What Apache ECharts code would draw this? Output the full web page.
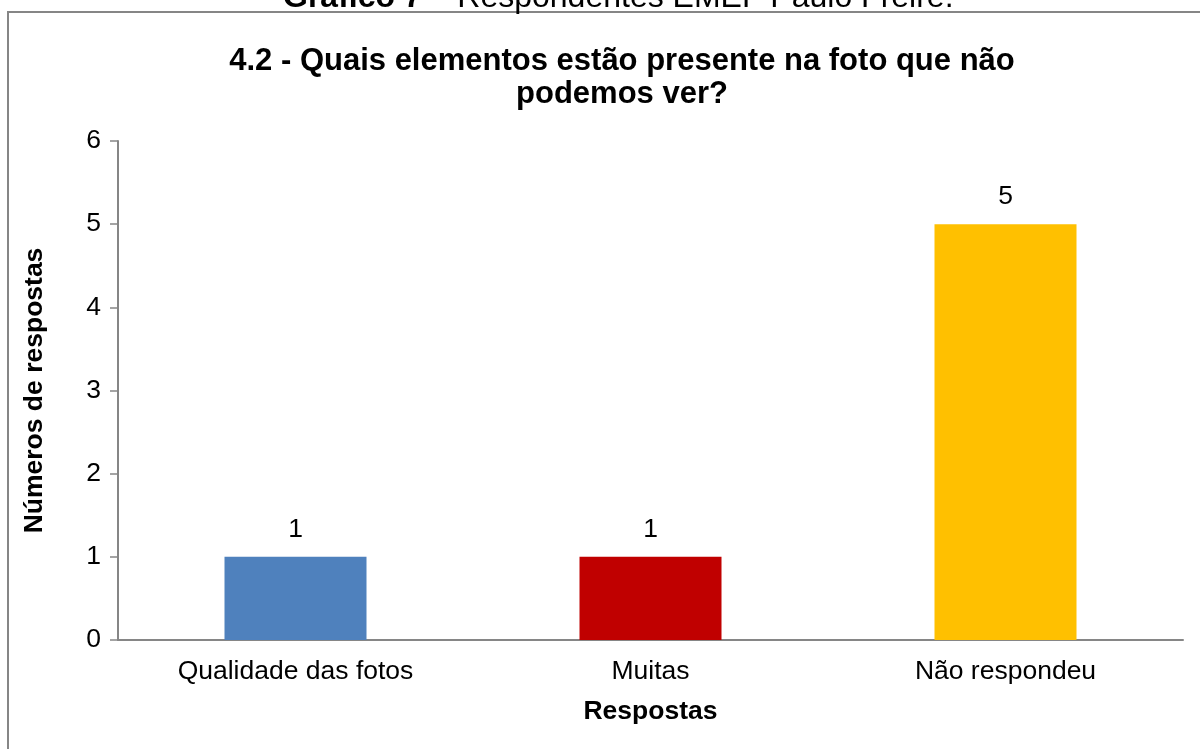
<!DOCTYPE html>
<html lang="pt">
<head>
  <meta charset="UTF-8">
  <title>4.2 - Quais elementos estão presente na foto que não podemos ver?</title>
  <style>
    * { margin: 0; padding: 0; box-sizing: border-box; }
    body { background: #fff; }
    #chart { width: 1200px; height: 749px; }
  </style>
</head>
<body>
  <div id="chart"></div>
  <script src="https://cdn.jsdelivr.net/npm/echarts@6/dist/echarts.min.js"></script>
  <script>
    // dados
    const categorias = ['Qualidade das fotos', 'Muitas', 'Não respondeu'];
    const respostas = [1, 1, 5];
    const cores = ['#4F81BD', '#C00000', '#FFC000'];
    const yTicks = [0, 6, 1]; // min, max, intervalo

    const fonte = 'Liberation Sans, Arial, sans-serif';
    const chart = echarts.init(document.getElementById('chart'));

    chart.setOption({
      animation: false,
      backgroundColor: '#fff',
      title: {
        text: '4.2 - Quais elementos estão presente na foto que não\npodemos ver?',
        left: 617,
        top: 40,
        textAlign: 'center',
        textStyle: {
          fontFamily: fonte,
          fontSize: 31,
          fontWeight: 'bold',
          color: '#000',
          lineHeight: 33
        }
      },
      graphic: [
        {
          // moldura do gráfico
          type: 'rect',
          shape: { x: 8, y: 12, width: 1240, height: 800 },
          style: { fill: 'none', stroke: '#868686', lineWidth: 2 },
          silent: true
        },
        {
          // legenda cortada no topo
          type: 'text',
          left: 283,
          top: -18,
          style: {
            text: '{b|Gráfico 7} – Respondentes EMEF Paulo Freire.',
            font: '32px ' + fonte,
            fill: '#000',
            rich: {
              b: { fontWeight: 'bold', fontSize: 32, fontFamily: fonte, fill: '#000' }
            }
          },
          silent: true
        }
      ],
      grid: { left: 118, right: 17, top: 141, bottom: 109 },
      xAxis: {
        type: 'category',
        data: categorias,
        name: 'Respostas',
        nameLocation: 'middle',
        nameGap: 58,
        nameTextStyle: { fontFamily: fonte, fontSize: 26.5, fontWeight: 'bold', color: '#000' },
        axisLine: { lineStyle: { color: '#868686', width: 2 } },
        axisTick: { show: false },
        axisLabel: { fontFamily: fonte, fontSize: 26.5, color: '#000', margin: 18 }
      },
      yAxis: {
        type: 'value',
        min: yTicks[0],
        max: yTicks[1],
        interval: yTicks[2],
        name: 'Números de respostas',
        nameLocation: 'middle',
        nameGap: 70,
        nameTextStyle: { fontFamily: fonte, fontSize: 26.5, fontWeight: 'bold', color: '#000' },
        axisLine: { show: true, lineStyle: { color: '#868686', width: 2 } },
        axisTick: { show: true, length: 8, lineStyle: { color: '#868686', width: 1.5 } },
        splitLine: { show: false },
        axisLabel: { fontFamily: fonte, fontSize: 26.5, color: '#000', margin: 17 }
      },
      series: [{
        type: 'bar',
        barWidth: '40%',
        data: respostas.map((v, i) => ({ value: v, itemStyle: { color: cores[i] } })),
        label: {
          show: true,
          position: 'top',
          distance: 14,
          fontFamily: fonte,
          fontSize: 26.5,
          color: '#000'
        }
      }]
    });
  </script>
</body>
</html>
